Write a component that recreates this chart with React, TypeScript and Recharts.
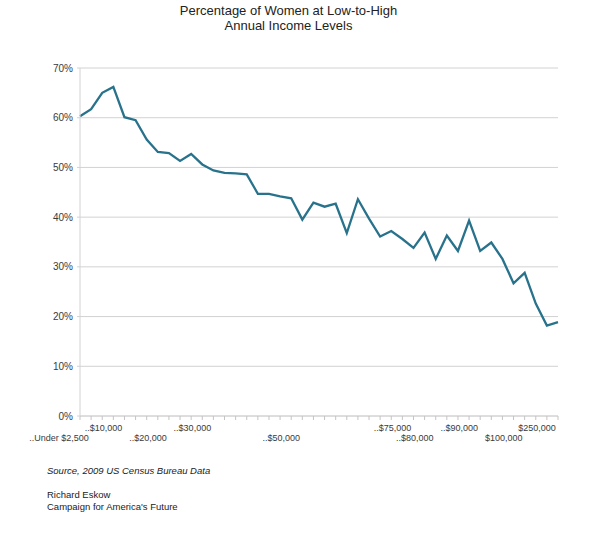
import React from 'react';
import { LineChart, Line, XAxis, YAxis, CartesianGrid } from 'recharts';

// income brackets, $2,500 steps up to $100,000 then the top brackets
const categories: string[] = [
  '..Under $2,500',
  ...Array.from({ length: 39 }, (_, k) => `..$${(2500 * (k + 1)).toLocaleString('en-US')}`),
  '$100,000',
  '$150,000',
  '$200,000',
  '$250,000',
];

// share of women in each bracket (%)
const womenShare: number[] = [
  60.3, 61.7, 65.0, 66.2, 60.1, 59.5, 55.6, 53.1, 52.9, 51.3,
  52.7, 50.6, 49.4, 48.9, 48.8, 48.6, 44.7, 44.7, 44.2, 43.8,
  39.5, 42.9, 42.1, 42.7, 36.8, 43.6, 39.7, 36.1, 37.2, 35.6,
  33.8, 36.9, 31.6, 36.3, 33.2, 39.3, 33.2, 34.9, 31.6, 26.7,
  28.8, 22.6, 18.2, 18.9,
];

const tickLabels = [
  '..Under $2,500', '..$10,000', '..$20,000', '..$30,000', '..$50,000',
  '..$75,000', '..$80,000', '..$90,000', '$100,000', '$250,000',
];

const yTicks = [0, 10, 20, 30, 40, 50, 60, 70];

const data = categories.map((bracket, i) => ({ bracket, share: womenShare[i] }));

const FONT = '"Liberation Sans", Arial, Helvetica, sans-serif';
const GRID = '#d2d2d2';

const XTick = (props: any) => {
  const { x, y, payload } = props;
  const pos = tickLabels.indexOf(payload.value);
  if (pos < 0) return null;
  // labels alternate between two rows, upper row for odd ones
  const dy = pos % 2 === 1 ? 8.5 : 18.5;
  return (
    <text x={x - 21} y={y + dy} textAnchor="middle" fontSize={9} fill="#3a3a3a" fontFamily={FONT}>
      {payload.value}
    </text>
  );
};

export default function App() {
  return (
    <div style={{ position: 'absolute', left: 0, top: 0, width: 600, height: 538, background: '#fff', fontFamily: FONT, color: '#222' }}>
      <div style={{ position: 'absolute', left: 0, top: 3, width: 577, textAlign: 'center', fontSize: 13, lineHeight: '15px' }}>
        Percentage of Women at Low-to-High
        <br />
        Annual Income Levels
      </div>

      <div style={{ position: 'absolute', left: 0, top: 0 }}>
        <LineChart width={600} height={450} data={data} margin={{ top: 68, right: 42, bottom: 4, left: 40 }}>
          <CartesianGrid vertical={false} stroke={GRID} />
          <XAxis
            dataKey="bracket"
            interval={0}
            height={30}
            tickSize={4}
            tickMargin={2}
            axisLine={{ stroke: GRID }}
            tickLine={{ stroke: '#c4c4c4' }}
            tick={<XTick />}
          />
          <YAxis
            domain={[0, 70]}
            ticks={yTicks}
            width={40}
            tickSize={3}
            tickMargin={4}
            tickFormatter={(v: number) => `${v}%`}
            axisLine={{ stroke: GRID }}
            tickLine={{ stroke: GRID }}
            tick={{ fontSize: 10, fill: '#3a3a3a', fontFamily: FONT }}
          />
          <YAxis yAxisId="r" orientation="right" domain={[0, 70]} width={0} tick={false} tickLine={false} axisLine={{ stroke: GRID }} />
          <Line
            type="linear"
            dataKey="share"
            stroke="#28728c"
            strokeWidth={2.3}
            dot={false}
            isAnimationActive={false}
          />
        </LineChart>
      </div>

      <div style={{ position: 'absolute', left: 47, top: 465, fontSize: 9.5, fontStyle: 'italic' }}>
        Source, 2009 US Census Bureau Data
      </div>
      <div style={{ position: 'absolute', left: 47, top: 489, fontSize: 9.5, lineHeight: '12px' }}>
        Richard Eskow
        <br />
        Campaign for America's Future
      </div>
    </div>
  );
}
